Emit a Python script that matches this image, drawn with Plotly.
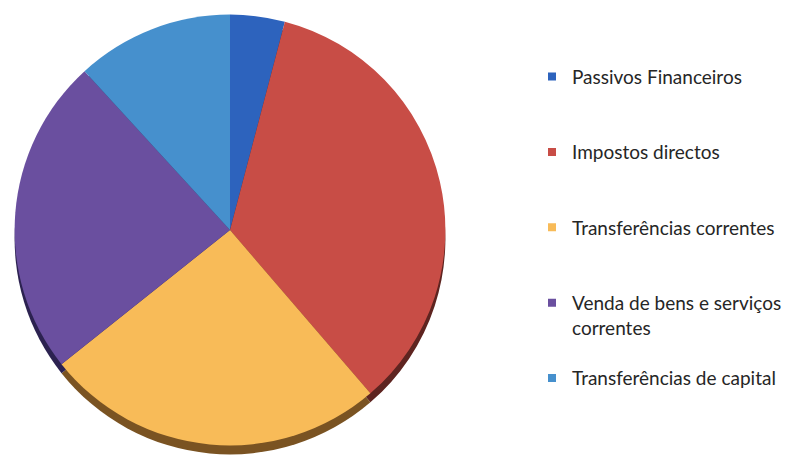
import plotly.graph_objects as go

labels = ["Passivos Financeiros", "Impostos directos", "Transferências correntes",
          "Venda de bens e serviços correntes", "Transferências de capital"]
legend_text = ["Passivos Financeiros<br> ", "Impostos directos<br> ", "Transferências correntes<br> ",
               "Venda de bens e serviços<br>correntes", "Transferências de capital<br> "]
values = [4.1, 34.6, 25.6, 23.9, 11.8]
colors = ["#2d63bd", "#c84d46", "#f8bb58", "#6a4f9f", "#4690cd"]
shadow_colors = ["#1a2f5a", "#5e2420", "#7a5322", "#2c2250", "#1f4468"]

W, H = 787, 461
cx, cy, r = 236, 230, 221
shadow = 9

fig = go.Figure()
fig.add_trace(go.Pie(
    values=values, labels=labels, sort=False, direction="clockwise", rotation=0,
    marker=dict(colors=shadow_colors, line=dict(width=0)),
    textinfo="none", hoverinfo="skip", showlegend=False,
    domain=dict(x=[(cx - r) / W, (cx + r) / W],
                y=[(H - (cy + r + shadow)) / H, (H - (cy - r + shadow)) / H]),
))
fig.add_trace(go.Pie(
    values=values, labels=labels, sort=False, direction="clockwise", rotation=0,
    marker=dict(colors=colors, line=dict(width=0)),
    textinfo="none", showlegend=False,
    domain=dict(x=[(cx - r) / W, (cx + r) / W],
                y=[(H - (cy + r)) / H, (H - (cy - r)) / H]),
))
for i, (lt, c) in enumerate(zip(legend_text, colors)):
    fig.add_trace(go.Scatter(
        x=[None], y=[None], mode="markers", name=lt, legendgroup=f"g{i}",
        marker=dict(symbol="square", size=8, color=c),
    ))

fig.update_layout(
    width=W, height=H, margin=dict(l=0, r=0, t=0, b=0),
    paper_bgcolor="white", plot_bgcolor="white",
    xaxis=dict(visible=False), yaxis=dict(visible=False),
    showlegend=True,
    legend=dict(x=0.694, y=0.875, xanchor="left", yanchor="top",
                valign="top", tracegroupgap=23, itemwidth=30,
                font=dict(family="Lato", size=19, color="#262626"),
                bgcolor="rgba(0,0,0,0)"),
)
fig.write_html("out.html", config={"displayModeBar": False},
               post_script="document.body.style.margin='0';")
